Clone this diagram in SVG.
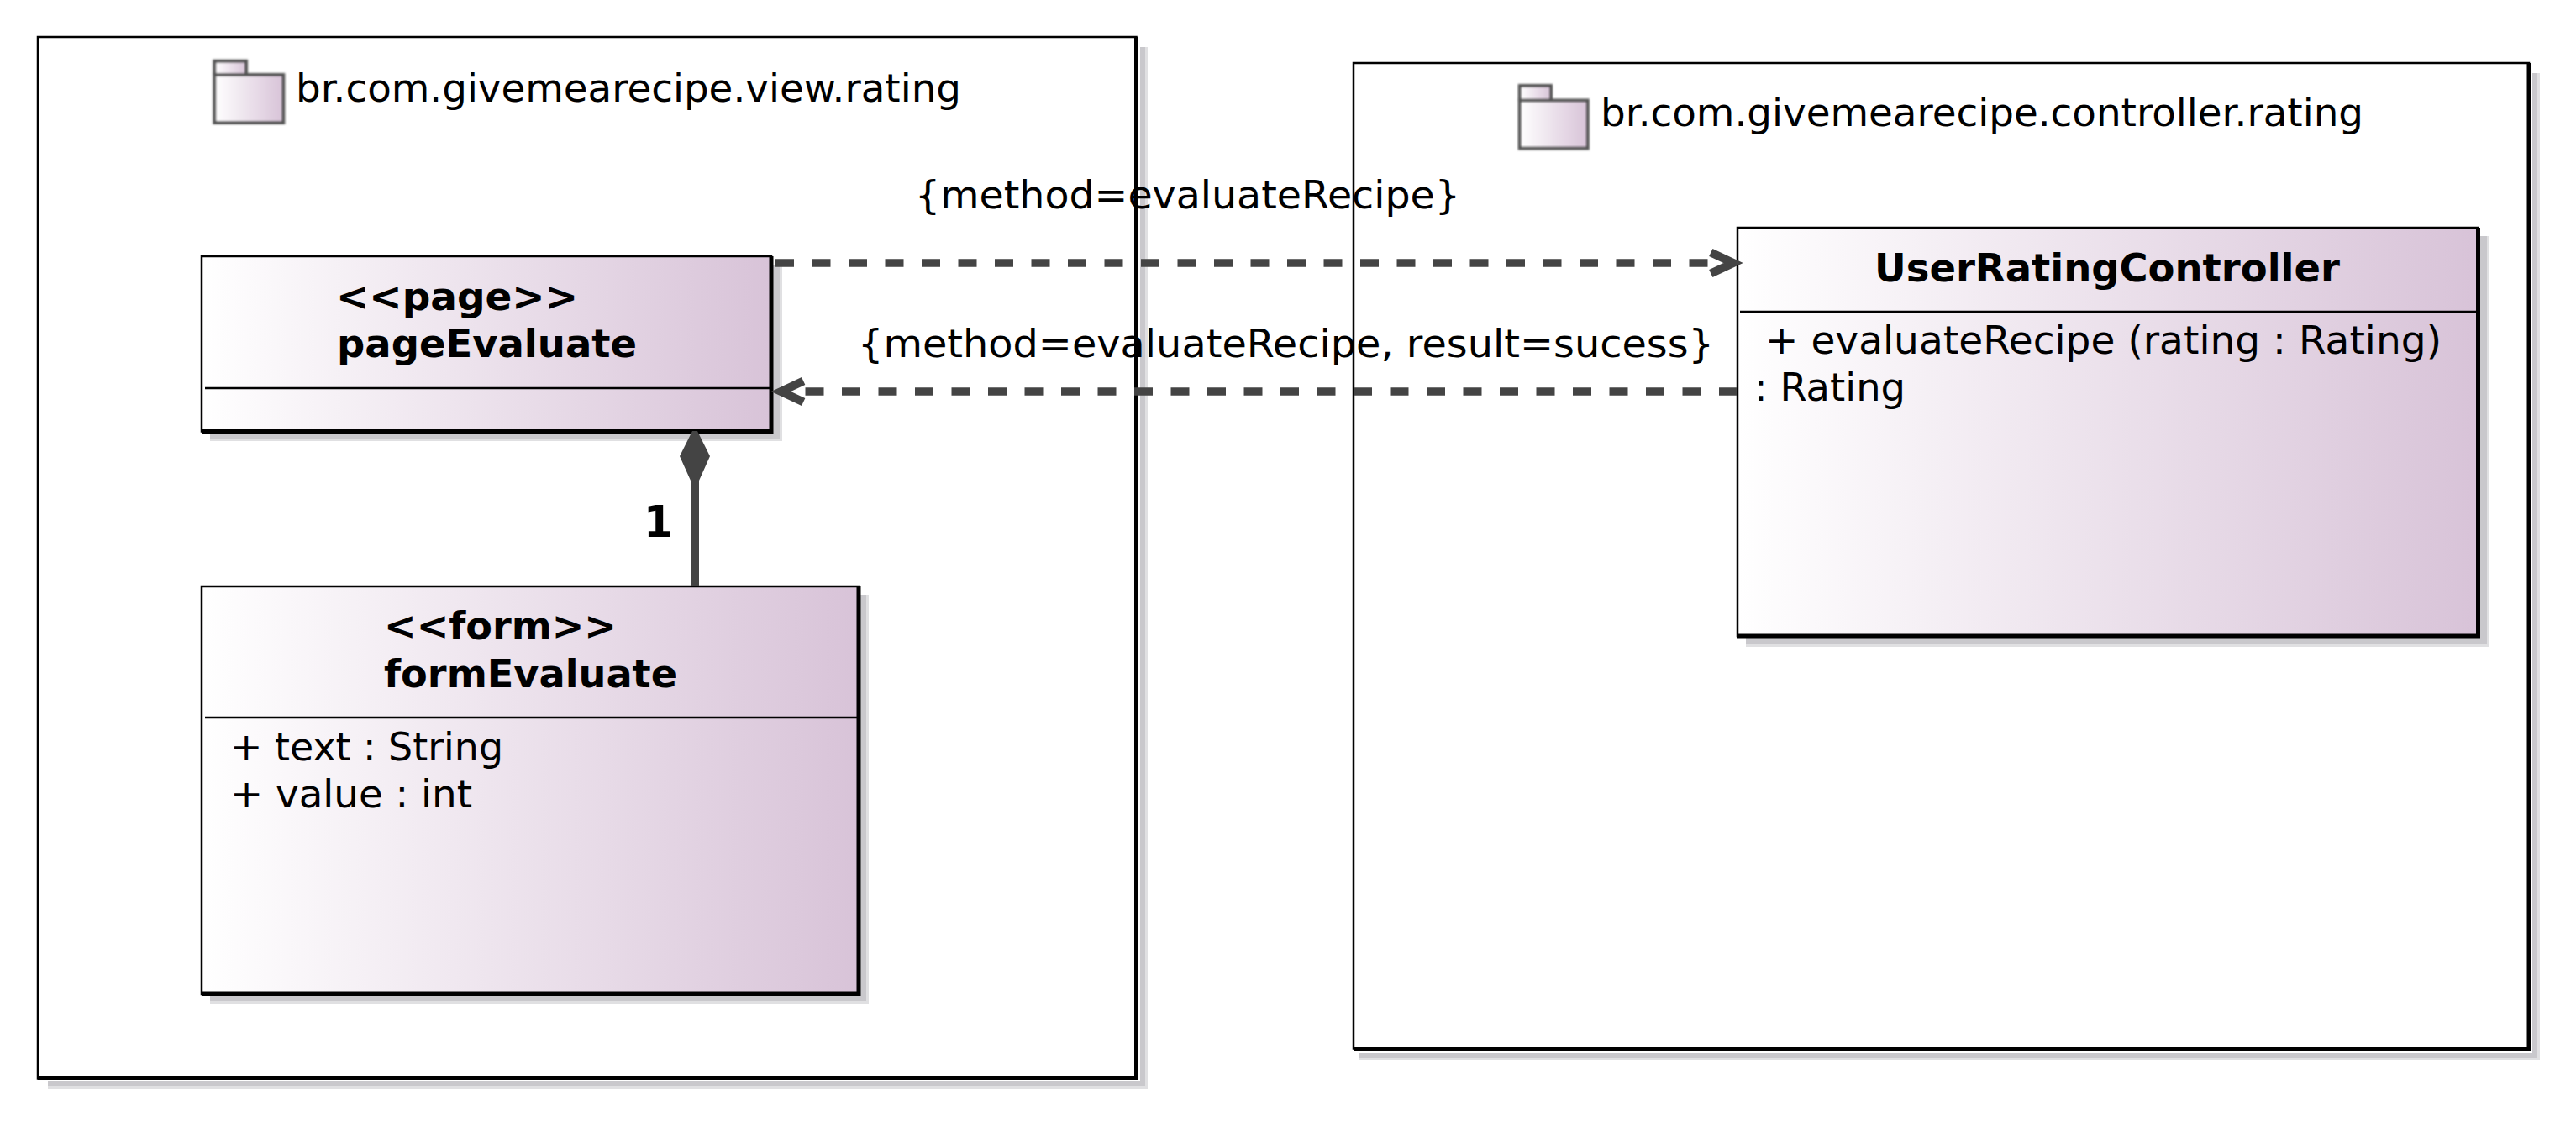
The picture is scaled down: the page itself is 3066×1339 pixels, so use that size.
<svg xmlns="http://www.w3.org/2000/svg" width="3066" height="1339" viewBox="0 0 3066 1339">
<defs>
<linearGradient id="grad" x1="0" y1="0" x2="1" y2="0"><stop offset="0" stop-color="#ffffff"/><stop offset="1" stop-color="#d8c3d8"/></linearGradient>
<filter id="soft" x="-10%" y="-10%" width="120%" height="120%"><feGaussianBlur stdDeviation="0.9"/></filter>
<marker id="open" markerUnits="userSpaceOnUse" markerWidth="60" markerHeight="60" refX="0" refY="0" orient="auto" overflow="visible"><path d="M2.3 -12.6L29 0L2.3 12.6" fill="none" stroke="#444" stroke-width="10"/></marker>
</defs>
<style>
text{font-family:"DejaVu Sans","Liberation Sans",sans-serif;fill:#000}
.t{font-size:46px}
.b{font-size:46px;font-weight:bold}
.pk{fill:#fff;stroke:#000;stroke-width:2.5}
.cl{fill:url(#grad);stroke:#000;stroke-width:2.5}
.edge{stroke:#000;stroke-width:5;fill:none}
.div{stroke:#000;stroke-width:2.5}
.so{fill:#e0e0e2}
.si{fill:#c9c8cc}
.ic{fill:url(#grad);stroke:#555;stroke-width:4}
.dep{fill:none;stroke:#444;stroke-width:9.5;stroke-dasharray:22 21.5}
</style>
<rect width="3066" height="1339" fill="#fff"/>
<g id="pkg-view">
<rect class="so" x="57" y="56" width="1309" height="1240"/>
<rect class="si" x="57" y="56" width="1306" height="1237"/>
<rect x="45" y="44" width="1312" height="1243" fill="#fff"/>
<rect class="pk" x="45" y="44" width="1307.5" height="1239.5"/>
<path class="edge" d="M1352.5 44V1283.5H45"/>
<g filter="url(#soft)"><path class="ic" d="M255.3 89V72.7H293V89"/><rect class="ic" x="255.3" y="89" width="82" height="57"/></g>
<text class="t" x="352" y="121" textLength="792" lengthAdjust="spacingAndGlyphs">br.com.givemearecipe.view.rating</text>
</g>
<g id="pkg-controller">
<rect class="so" x="1617" y="87" width="1406" height="1175"/>
<rect class="si" x="1617" y="87" width="1403" height="1172"/>
<rect x="1611" y="75" width="1403" height="1178" fill="#fff"/>
<rect class="pk" x="1611" y="75" width="1399" height="1173.5"/>
<path class="edge" d="M3010 75V1248.5H1611"/>
<g filter="url(#soft)"><path class="ic" d="M1808.7 119.5V102H1846V119.5"/><rect class="ic" x="1808.7" y="119.5" width="81" height="57"/></g>
<text class="t" x="1905" y="150" textLength="908" lengthAdjust="spacingAndGlyphs">br.com.givemearecipe.controller.rating</text>
</g>
<g id="pageEvaluate">
<rect class="so" x="250" y="315" width="681" height="210"/>
<rect class="si" x="250" y="315" width="678" height="207"/>
<rect class="cl" x="240" y="305" width="678" height="208.5"/>
<path class="edge" d="M918 305V513.5H240"/>
<path class="div" d="M244 462H916"/>
<text class="b" x="400" y="369" textLength="288" lengthAdjust="spacingAndGlyphs">&lt;&lt;page&gt;&gt;</text>
<text class="b" x="401" y="425" textLength="357" lengthAdjust="spacingAndGlyphs">pageEvaluate</text>
</g>
<g id="formEvaluate">
<rect class="so" x="250" y="708" width="784" height="487"/>
<rect class="si" x="250" y="708" width="781" height="484"/>
<rect class="cl" x="240" y="698" width="782" height="485"/>
<path class="edge" d="M1022 698V1183H240"/>
<path class="div" d="M244 854H1020"/>
<text class="b" x="457" y="761" textLength="277" lengthAdjust="spacingAndGlyphs">&lt;&lt;form&gt;&gt;</text>
<text class="b" x="457" y="818" textLength="349" lengthAdjust="spacingAndGlyphs">formEvaluate</text>
<text class="t" x="274" y="905" textLength="325" lengthAdjust="spacingAndGlyphs">+ text : String</text>
<text class="t" x="274" y="961" textLength="288" lengthAdjust="spacingAndGlyphs">+ value : int</text>
</g>
<g id="UserRatingController">
<rect class="so" x="2078" y="281" width="885" height="489"/>
<rect class="si" x="2078" y="281" width="882" height="486"/>
<rect class="cl" x="2068" y="271" width="881.5" height="486"/>
<path class="edge" d="M2949.5 271V757H2068"/>
<path class="div" d="M2071 371H2947"/>
<text class="b" x="2231" y="335" textLength="554" lengthAdjust="spacingAndGlyphs">UserRatingController</text>
<text class="t" x="2101" y="421" textLength="805" lengthAdjust="spacingAndGlyphs">+ evaluateRecipe (rating : Rating)</text>
<text class="t" x="2088" y="477" textLength="180" lengthAdjust="spacingAndGlyphs">: Rating</text>
</g>
<g id="connectors">
<path class="dep" d="M923 313H2034" marker-end="url(#open)"/>
<path class="dep" d="M2068 466H958.5" marker-end="url(#open)"/>
<path d="M824 513H830L845 543L832 572V697H822V572L809 543Z" fill="#444"/>
<text x="766" y="639" font-size="51" font-weight="bold" textLength="35" lengthAdjust="spacingAndGlyphs">1</text>
<text class="t" x="1089" y="248" textLength="649" lengthAdjust="spacingAndGlyphs">{method=evaluateRecipe}</text>
<text class="t" x="1021" y="425" textLength="1019" lengthAdjust="spacingAndGlyphs">{method=evaluateRecipe, result=sucess}</text>
</g>
</svg>
